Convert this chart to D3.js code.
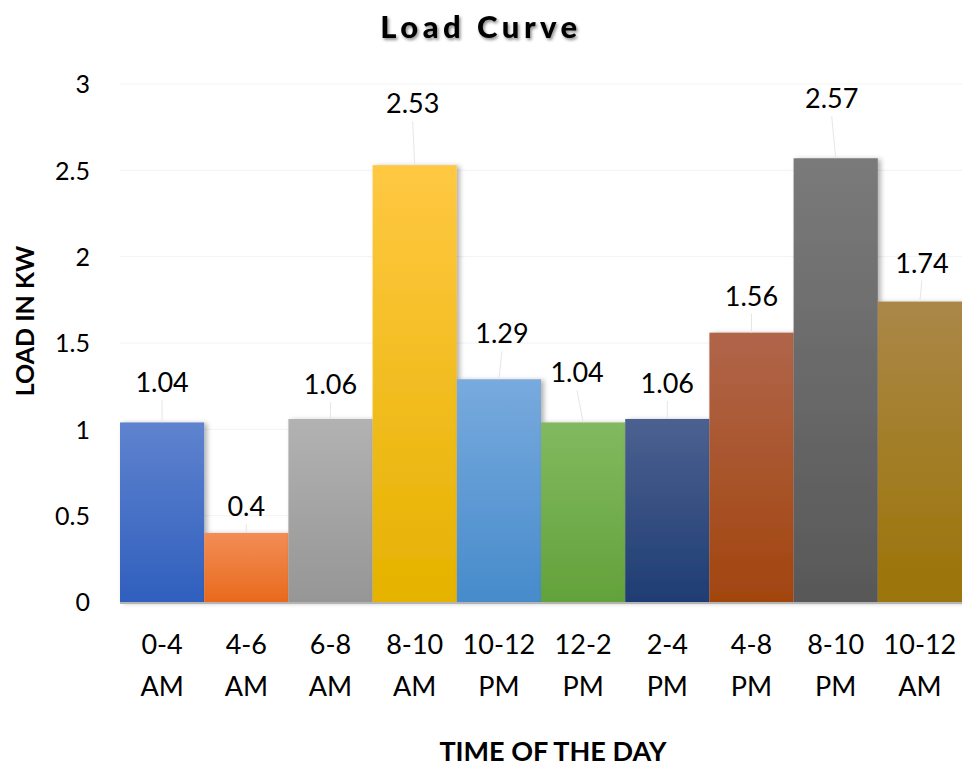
<!DOCTYPE html>
<html>
<head>
<meta charset="utf-8">
<script src="https://cdn.jsdelivr.net/npm/d3@7"></script>
<style>
  html, body { margin: 0; padding: 0; background: #fff; }
  svg { display: block; }
  text { font-family: Lato, "Open Sans", sans-serif; fill: #000; }
</style>
</head>
<body>
<svg id="chart" width="962" height="767"></svg>
<script>
// Hourly load profile of the household
const periods = ["0-4 AM", "4-6 AM", "6-8 AM", "8-10 AM", "10-12 PM", "12-2 PM", "2-4 PM", "4-8 PM", "8-10 PM", "10-12 AM"];
const loadKW = [1.04, 0.4, 1.06, 2.53, 1.29, 1.04, 1.06, 1.56, 2.57, 1.74];
const yTicks = [0, 0.5, 1, 1.5, 2, 2.5, 3];
// Gradient stops per bar: [top, bottom]
const barColors = [
  ["#5f83cf", "#2f5fbd"],
  ["#f28d57", "#e96a1c"],
  ["#b2b2b2", "#969696"],
  ["#ffc842", "#e5b200"],
  ["#78aade", "#478bcb"],
  ["#82b960", "#63a23b"],
  ["#4c6190", "#1f3d73"],
  ["#b0654a", "#a2450f"],
  ["#7a7a7a", "#585858"],
  ["#aa8748", "#9b7407"]
];

// Label placement: pixels between label baseline and bar top, and small horizontal nudges
const labelLift = [30, 17, 25, 52, 36, 40, 26, 27, 50, 29];
const labelNudge = [0, 0, 0, -2, 3, -6, 0, 0, -4, 2];

const svg = d3.select("#chart");
const plot = { left: 120, right: 962, top: 84, bottom: 602 };

const x = d3.scaleBand().domain(periods).range([plot.left, plot.right]).paddingInner(0).paddingOuter(0);
const y = d3.scaleLinear().domain([0, 3]).range([plot.bottom, plot.top]);

const defs = svg.append("defs");
barColors.forEach((c, i) => {
  const g = defs.append("linearGradient")
    .attr("id", "grad" + i).attr("x1", 0).attr("y1", 0).attr("x2", 0).attr("y2", 1);
  g.append("stop").attr("offset", "0%").attr("stop-color", c[0]);
  g.append("stop").attr("offset", "100%").attr("stop-color", c[1]);
});
const shadow = defs.append("filter").attr("id", "barShadow")
  .attr("x", "-20%").attr("y", "-20%").attr("width", "140%").attr("height", "140%");
shadow.append("feDropShadow").attr("dx", 3).attr("dy", 1).attr("stdDeviation", 2.5)
  .attr("flood-color", "#000").attr("flood-opacity", 0.3);

const titleShadow = defs.append("filter").attr("id", "titleShadow")
  .attr("x", "-20%").attr("y", "-40%").attr("width", "140%").attr("height", "180%");
titleShadow.append("feDropShadow").attr("dx", 1.5).attr("dy", 2).attr("stdDeviation", 1.5)
  .attr("flood-color", "#000").attr("flood-opacity", 0.45);

// Gridlines
svg.append("g")
  .selectAll("line").data(yTicks.filter(t => t > 0)).join("line")
  .attr("x1", plot.left).attr("x2", plot.right)
  .attr("y1", d => y(d)).attr("y2", d => y(d))
  .attr("stroke", "#f2f2f2").attr("stroke-width", 1);

// Y axis tick labels
const yAxis = d3.axisLeft(y).tickValues(yTicks).tickSize(0).tickPadding(0).tickFormat(d3.format("~g"));
const yG = svg.append("g").attr("transform", `translate(90,0)`).call(yAxis);
yG.select(".domain").remove();
yG.selectAll("text").style("font-size", "25px").style("font-family", "Lato, sans-serif").attr("dy", "0.35em").attr("fill", "#000");

// Bars
svg.append("g")
  .selectAll("rect").data(loadKW).join("rect")
  .attr("x", (d, i) => x(periods[i]))
  .attr("width", x.bandwidth())
  .attr("y", d => y(d))
  .attr("height", d => y(0) - y(d))
  .attr("fill", (d, i) => `url(#grad${i})`)
  .attr("filter", "url(#barShadow)");

// Baseline
svg.append("line")
  .attr("x1", plot.left).attr("x2", plot.right)
  .attr("y1", y(0) + 1).attr("y2", y(0) + 1)
  .attr("stroke", "#b4b4b4").attr("stroke-width", 2);

// Leader lines and value labels
const labels = svg.append("g");
loadKW.forEach((v, i) => {
  const cx = x(periods[i]) + x.bandwidth() / 2;
  const top = y(v);
  const base = top - labelLift[i];
  labels.append("line")
    .attr("x1", cx + labelNudge[i]).attr("y1", base + 8)
    .attr("x2", cx).attr("y2", top)
    .attr("stroke", "#e6e6e6").attr("stroke-width", 1);
  labels.append("text")
    .attr("x", cx + labelNudge[i]).attr("y", base)
    .attr("text-anchor", "middle")
    .style("font-size", "27px")
    .text(d3.format("~g")(v));
});

// Category labels, two lines each
const xAxis = d3.axisBottom(x).tickSize(0).tickPadding(0);
const xG = svg.append("g").attr("transform", `translate(0,${plot.bottom})`).call(xAxis);
xG.select(".domain").remove();
xG.selectAll(".tick text").each(function(d) {
  const t = d3.select(this);
  const parts = d.split(" ");
  t.text(null).attr("y", 0).attr("dy", null).style("font-size", "27px").style("font-family", "Lato, sans-serif").attr("fill", "#000");
  t.append("tspan").attr("x", 0).attr("y", 52).text(parts[0]);
  t.append("tspan").attr("x", 0).attr("y", 94).text(parts[1]);
});

// Title
svg.append("text")
  .attr("x", 481).attr("y", 38)
  .attr("text-anchor", "middle")
  .style("font-size", "31px").style("font-weight", "900").style("letter-spacing", "4.5px")
  .attr("filter", "url(#titleShadow)")
  .text("Load Curve");

// Axis titles
svg.append("text")
  .attr("x", 553).attr("y", 761)
  .attr("text-anchor", "middle")
  .style("font-size", "27px").style("font-weight", "bold")
  .text("TIME OF THE DAY");

svg.append("text")
  .attr("transform", "translate(34,321) rotate(-90)")
  .attr("text-anchor", "middle")
  .style("font-size", "25px").style("font-weight", "bold")
  .text("LOAD IN KW");
</script>
</body>
</html>
